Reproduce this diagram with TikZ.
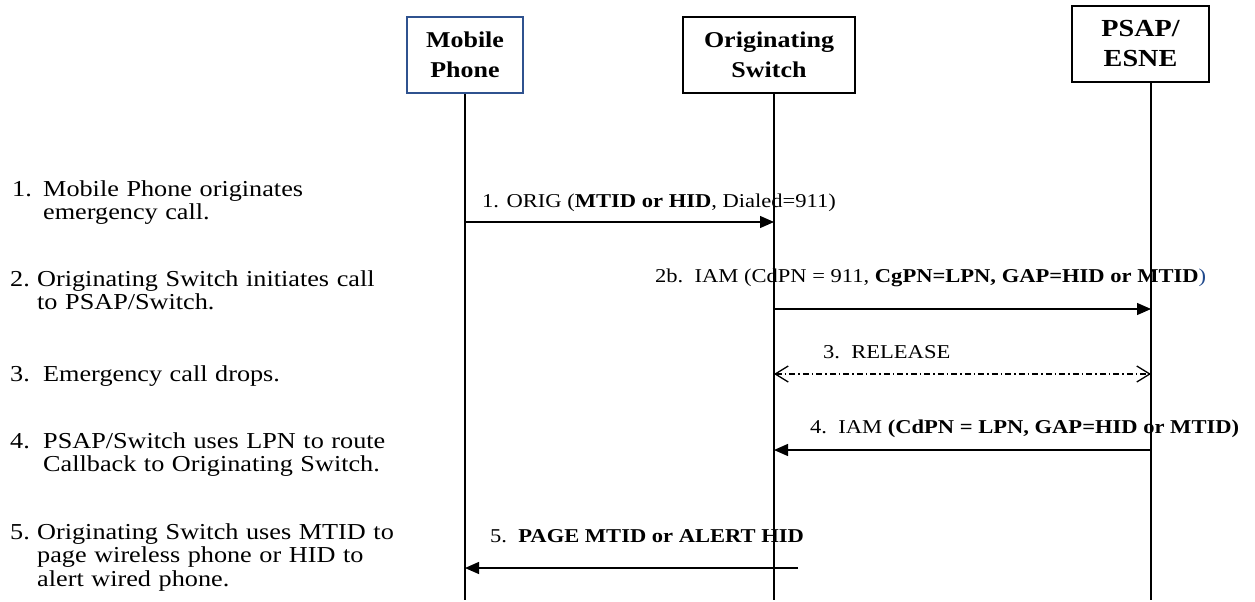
\documentclass[tikz,border=0pt]{standalone}
\usepackage{fontspec}
\setmainfont{Liberation Serif}[FakeStretch=1.15]
\usetikzlibrary{arrows.meta}
\definecolor{boxblue}{RGB}{47,82,143}
\definecolor{parblue}{RGB}{31,73,140}
\begin{document}
\begin{tikzpicture}[x=1pt,y=-1pt,
  lifebox/.style={draw,line width=1.4pt,minimum width=#1,minimum height=76pt,inner sep=0pt,align=center,font=\fontsize{22.6pt}{30pt}\selectfont\bfseries},
  lifeline/.style={line width=1.3pt},
  msg/.style={line width=1.3pt,-{Triangle[length=14pt,width=12pt]}},
  rel/.style={line width=1.3pt,dash pattern=on 6pt off 3pt on 1.5pt off 3pt,{Straight Barb[length=13pt,width=16pt]}-{Straight Barb[length=13pt,width=16pt]}},
  lbl/.style={anchor=base west,inner sep=0pt,font=\fontsize{19.6pt}{22pt}\selectfont},
  note/.style={anchor=base west,inner sep=0pt,text width=420pt,align=left,font=\fontsize{22.8pt}{23.5pt}\selectfont}]
\useasboundingbox (0,0) rectangle (1255,602);

% participants
\node[lifebox=116pt,draw=boxblue] (mp) at (465,55) {Mobile\\Phone};
\node[lifebox=172pt] (os) at (769,55) {Originating\\Switch};
\node[lifebox=137pt,font=\fontsize{24.5pt}{30pt}\selectfont\bfseries] (ps) at (1140.5,44) {PSAP/\\ESNE};

% lifelines
\coordinate (mb) at (465,600);
\coordinate (sb) at (774,600);
\coordinate (pb) at (1151,600);
\draw[lifeline] (mp.south) -- (mb);
\draw[lifeline] (os.south -| sb) -- (sb);
\draw[lifeline] (ps.south -| pb) -- (pb);

% message points
\coordinate (m1) at (465,222); \coordinate (s1) at (774,222);
\coordinate (s2) at (774,309); \coordinate (p2) at (1151,309);
\coordinate (s3) at (774,374); \coordinate (p3) at (1151,374);
\coordinate (p4) at (1151,450); \coordinate (s4) at (774,450);
\coordinate (e5) at (798,568); \coordinate (m5) at (465,568);

% messages
\draw[msg] (m1) -- (s1);
\draw[msg] (s2) -- (p2);
\draw[rel] (s3) -- (p3);
\draw[msg] (p4) -- (s4);
\draw[msg] (e5) -- (m5);

% message labels
\node[lbl] (l1) at (482,207) {1. ORIG (\textbf{MTID or HID}, Dialed=911)};
\node[lbl] (l2) at (655,282) {2b.\ \ IAM (CdPN = 911, \textbf{CgPN=LPN, GAP=HID or MTID}\textcolor{parblue}{)}};
\node[lbl] (l3) at (823,358) {3.\ \ RELEASE};
\node[lbl] (l4) at (810,433) {4.\ \ IAM \textbf{(CdPN = LPN, GAP=HID or MTID)}};
\node[lbl] (l5) at (490,542) {5.\ \ \textbf{PAGE MTID or ALERT HID}};

% step descriptions
\node[note] (n1) at (12,196) {\makebox[31pt][l]{1.}Mobile Phone originates\\\hspace*{31pt}emergency call.};
\node[note] (n2) at (10,286) {\makebox[27pt][l]{2.}Originating Switch initiates call\\\hspace*{27pt}to PSAP/Switch.};
\node[note] (n3) at (10,381) {\makebox[33pt][l]{3.}Emergency call drops.};
\node[note] (n4) at (10,448) {\makebox[33pt][l]{4.}PSAP/Switch uses LPN to route\\\hspace*{33pt}Callback to Originating Switch.};
\node[note] (n5) at (10,539) {\makebox[27pt][l]{5.}Originating Switch uses MTID to\\\hspace*{27pt}page wireless phone or HID to\\\hspace*{27pt}alert wired phone.};
\end{tikzpicture}
\end{document}
